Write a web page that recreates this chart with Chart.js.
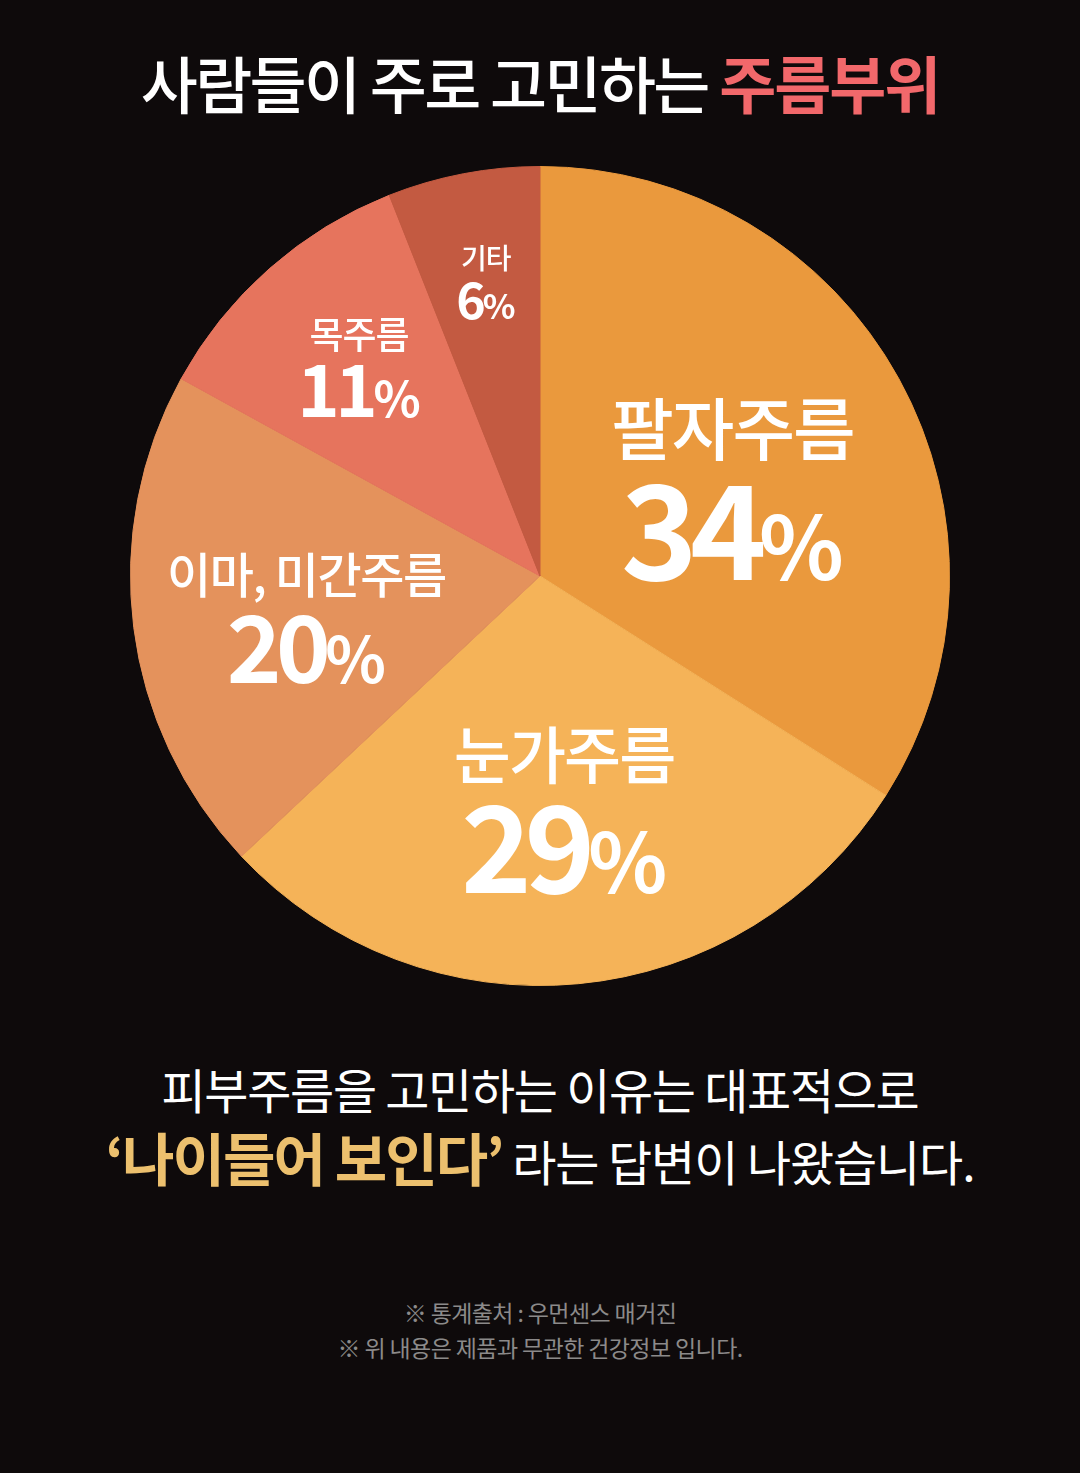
<!DOCTYPE html>
<html><head><meta charset="utf-8">
<script src="https://cdn.jsdelivr.net/npm/chart.js@4"></script>
<style>
html,body{margin:0;padding:0;background:#0E0A0B;}
body{width:1080px;height:1473px;position:relative;overflow:hidden;font-family:"Noto Sans CJK KR","Noto Sans",sans-serif;}
.t{position:absolute;left:0;width:1080px;text-align:center;white-space:nowrap;}
#title{top:37px;font-size:62px;font-weight:500;color:#fff;letter-spacing:-2.6px;line-height:90px;}
#title span{color:#F2686B;font-weight:700;letter-spacing:-2px;}
#l1{top:1056px;font-size:48px;font-weight:400;color:#fff;letter-spacing:-1.3px;line-height:64px;}
#l2{top:1118px;font-size:48px;font-weight:400;color:#fff;letter-spacing:-1.1px;line-height:76px;}
#l2 b{color:#ECC06E;font-weight:700;font-size:57px;letter-spacing:-2px;}
#f1{top:1296px;font-size:23px;color:#8C8A8A;letter-spacing:-0.6px;line-height:32px;}
#f2{top:1331px;font-size:23px;color:#8C8A8A;letter-spacing:-0.6px;line-height:32px;}
#wrap{position:absolute;left:130px;top:166px;width:820px;height:820px;}
</style></head>
<body>
<div class="t" id="title">사람들이 주로 고민하는 <span>주름부위</span></div>
<div id="wrap"><canvas id="c" width="820" height="820"></canvas></div>
<div class="t" id="l1">피부주름을 고민하는 이유는 대표적으로</div>
<div class="t" id="l2"><b>‘나이들어 보인다’</b> 라는 답변이 나왔습니다.</div>
<div class="t" id="f1">※ 통계출처 : 우먼센스 매거진</div>
<div class="t" id="f2">※ 위 내용은 제품과 무관한 건강정보 입니다.</div>
<script>
const categories = ["팔자주름", "눈가주름", "이마, 미간주름", "목주름", "기타"];
const values = [34, 29, 20, 11, 6];
const colors = ["#EA993D", "#F5B358", "#E4925C", "#E6745D", "#C35A41"];

// label styling (not data)
const labelRadius = [0.525, 0.573, 0.58, 0.676, 0.732];
const nameSize = [68, 62, 48, 37, 28];
const numSize = [130, 120, 93, 72, 50];
const nameOffset = [-43, -54, -31, -33, -23];
const numOffset = [108, 83, 77, 49, 37];
const labelShiftX = [4, 2, 2, 2, 2];

const labelPlugin = {
  id: 'sliceLabels',
  afterDatasetsDraw(chart) {
    const ctx = chart.ctx;
    const meta = chart.getDatasetMeta(0);
    meta.data.forEach((arc, i) => {
      const p = arc.getProps(['x','y','startAngle','endAngle','outerRadius'], true);
      const mid = (p.startAngle + p.endAngle) / 2;
      const r = p.outerRadius * labelRadius[i];
      const ax = p.x + Math.cos(mid) * r + labelShiftX[i];
      const ay = p.y + Math.sin(mid) * r;
      ctx.save();
      ctx.fillStyle = '#fff';
      ctx.textAlign = 'center';
      ctx.textBaseline = 'middle';
      ctx.font = `500 ${nameSize[i]}px "Noto Sans CJK KR"`;
      ctx.letterSpacing = (-nameSize[i] * 0.03) + 'px';
      ctx.fillText(categories[i], ax, ay + nameOffset[i]);
      const num = String(values[i]);
      const big = numSize[i], small = Math.round(numSize[i] * 0.68);
      ctx.textBaseline = 'alphabetic';
      ctx.textAlign = 'left';
      ctx.font = `700 ${big}px "Noto Sans CJK KR"`;
      ctx.letterSpacing = (-big * 0.06) + 'px';
      const w1 = ctx.measureText(num).width;
      ctx.font = `700 ${small}px "Noto Sans CJK KR"`;
      ctx.letterSpacing = '0px';
      const w2 = ctx.measureText('%').width;
      const sx = ax - (w1 + w2) / 2;
      ctx.font = `700 ${big}px "Noto Sans CJK KR"`;
      ctx.letterSpacing = (-big * 0.06) + 'px';
      ctx.fillText(num, sx, ay + numOffset[i]);
      ctx.font = `700 ${small}px "Noto Sans CJK KR"`;
      ctx.letterSpacing = '0px';
      ctx.fillText('%', sx + w1, ay + numOffset[i]);
      ctx.restore();
    });
  }
};

new Chart(document.getElementById('c'), {
  type: 'pie',
  data: {
    labels: categories,
    datasets: [{ data: values, backgroundColor: colors, borderColor: colors, borderWidth: 1 }]
  },
  options: {
    responsive: false,
    animation: false,
    layout: { padding: 0 },
    plugins: { legend: { display: false }, tooltip: { enabled: false } }
  },
  plugins: [labelPlugin]
});
</script>
</body></html>
